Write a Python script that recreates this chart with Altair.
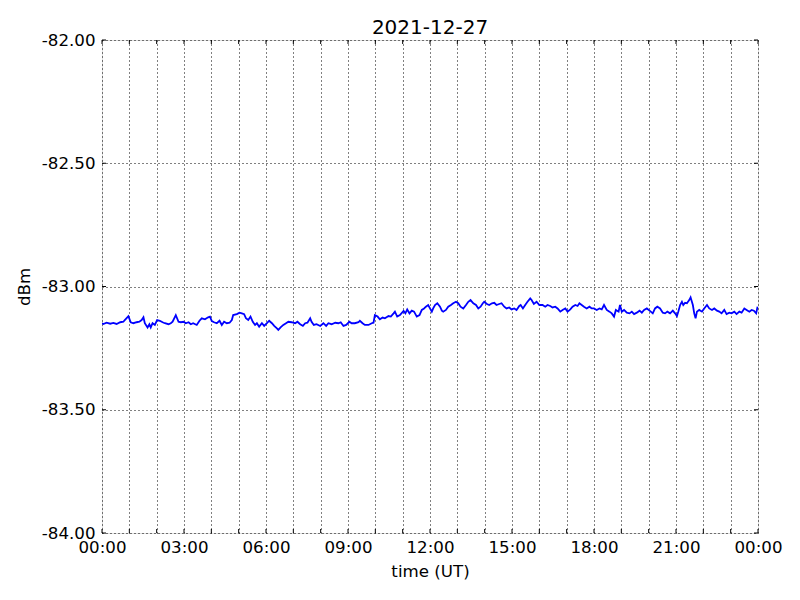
import altair as alt
import pandas as pd

# ---- data (minutes after 00:00 UT, dBm) ----
min_a = [0, 3, 10, 18, 25, 32, 40, 47, 50, 58, 63, 69, 76, 82, 87, 91, 94, 100, 104, 107, 111, 116,
         121, 127, 133, 138, 146, 151, 155, 162, 168, 173, 179, 184, 190, 195, 200, 208, 214, 219,
         226, 233, 237]
dbm_a = [-83.149, -83.152, -83.147, -83.151, -83.148, -83.152, -83.145, -83.143, -83.136, -83.120,
         -83.145, -83.149, -83.145, -83.143, -83.136, -83.125, -83.149, -83.166, -83.153, -83.166,
         -83.149, -83.156, -83.136, -83.139, -83.145, -83.149, -83.153, -83.149, -83.143, -83.116,
         -83.143, -83.145, -83.143, -83.149, -83.145, -83.153, -83.149, -83.156, -83.139, -83.129,
         -83.133, -83.125, -83.122]

min_b = [241, 246, 252, 258, 263, 268, 274, 280, 285, 288, 296, 302, 307, 312, 316, 321, 326, 331,
         336, 340, 345, 351, 356, 362, 367, 373, 378, 384, 387, 392, 398, 404, 409, 416, 424, 429,
         435, 441, 446, 451, 457, 460, 465, 471, 479]
dbm_b = [-83.140, -83.145, -83.149, -83.139, -83.156, -83.143, -83.149, -83.147, -83.136, -83.116,
         -83.112, -83.106, -83.109, -83.112, -83.129, -83.136, -83.122, -83.143, -83.156, -83.149,
         -83.163, -83.149, -83.160, -83.149, -83.139, -83.149, -83.160, -83.170, -83.176, -83.166,
         -83.156, -83.149, -83.143, -83.145, -83.149, -83.143, -83.153, -83.160, -83.149, -83.147,
         -83.129, -83.143, -83.156, -83.153, -83.160]

min_c = [486, 492, 497, 504, 512, 519, 524, 530, 536, 543, 548, 555, 563, 566, 572, 577, 585, 592,
         596, 599, 605, 610, 616, 621, 629, 634, 640, 643, 648, 654, 662, 666, 670, 675, 680, 685,
         691, 697, 702, 707, 711, 716, 720]
dbm_c = [-83.149, -83.160, -83.149, -83.153, -83.147, -83.149, -83.145, -83.160, -83.156, -83.143,
         -83.149, -83.149, -83.145, -83.139, -83.149, -83.156, -83.156, -83.149, -83.147, -83.116,
         -83.122, -83.133, -83.126, -83.129, -83.120, -83.122, -83.109, -83.102, -83.122, -83.116,
         -83.099, -83.109, -83.093, -83.109, -83.098, -83.102, -83.122, -83.116, -83.095, -83.089,
         -83.082, -83.075, -83.089]

min_d = [724, 727, 731, 736, 742, 746, 749, 755, 760, 766, 771, 777, 782, 787, 793, 799, 804, 809,
         815, 821, 826, 831, 836, 839, 845, 850, 856, 861, 866, 872, 877, 883, 888, 894, 899, 905,
         910, 916, 919, 924, 929, 934, 940, 943, 948, 954, 960]
dbm_d = [-83.102, -83.089, -83.075, -83.068, -83.082, -83.098, -83.102, -83.095, -83.082, -83.075,
         -83.068, -83.062, -83.068, -83.082, -83.089, -83.075, -83.062, -83.055, -83.068, -83.075,
         -83.089, -83.082, -83.068, -83.062, -83.071, -83.075, -83.068, -83.066, -83.075, -83.071,
         -83.068, -83.082, -83.089, -83.085, -83.093, -83.089, -83.095, -83.079, -83.075, -83.089,
         -83.075, -83.062, -83.048, -83.055, -83.071, -83.062, -83.075]

min_e = [967, 973, 978, 984, 989, 995, 1000, 1006, 1011, 1017, 1022, 1028, 1033, 1039, 1044, 1048,
         1053, 1058, 1064, 1070, 1075, 1080, 1086, 1092, 1097, 1102, 1108, 1114, 1119, 1124, 1128,
         1134, 1137, 1141, 1146, 1152, 1158, 1163, 1168, 1174, 1180, 1185, 1190, 1196, 1202]
dbm_e = [-83.075, -83.082, -83.075, -83.079, -83.085, -83.082, -83.089, -83.102, -83.095, -83.089,
         -83.102, -83.093, -83.082, -83.075, -83.079, -83.068, -83.075, -83.082, -83.089, -83.082,
         -83.089, -83.089, -83.095, -83.089, -83.093, -83.075, -83.095, -83.102, -83.109, -83.122,
         -83.095, -83.102, -83.075, -83.102, -83.095, -83.106, -83.109, -83.102, -83.112, -83.106,
         -83.098, -83.106, -83.095, -83.089, -83.098]

min_f = [1209, 1214, 1219, 1225, 1231, 1236, 1241, 1247, 1253, 1258, 1262, 1265, 1269, 1273, 1276,
         1280, 1284, 1289, 1292, 1297, 1300, 1303, 1306, 1311, 1317, 1322, 1328, 1333, 1339, 1344,
         1350, 1355, 1360, 1366, 1371, 1377, 1382, 1388, 1393, 1399, 1404, 1410, 1415, 1421, 1426,
         1431, 1436, 1439]
dbm_f = [-83.109, -83.089, -83.082, -83.089, -83.106, -83.109, -83.102, -83.109, -83.098, -83.109,
         -83.120, -83.102, -83.075, -83.062, -83.075, -83.066, -83.068, -83.055, -83.044, -83.075,
         -83.109, -83.129, -83.102, -83.095, -83.102, -83.089, -83.075, -83.089, -83.095, -83.089,
         -83.098, -83.102, -83.109, -83.095, -83.112, -83.106, -83.109, -83.102, -83.112, -83.102,
         -83.106, -83.089, -83.095, -83.102, -83.095, -83.098, -83.109, -83.082]

hour_ticks = list(range(0, 1441, 60))          # grid every hour, label every 3 h
y_ticks = [-84.0, -83.5, -83.0, -82.5, -82.0]
title_text = "2021-12-27"

# ---- build table ----
mins, vals = [], []
for m, v in [(min_a, dbm_a), (min_b, dbm_b), (min_c, dbm_c),
             (min_d, dbm_d), (min_e, dbm_e), (min_f, dbm_f)]:
    assert len(m) == len(v)
    mins += m
    vals += v
df = pd.DataFrame({"minute": mins, "dbm": vals})

W, H = 656, 493
FONT = "DejaVu Sans"

x_enc = alt.X(
    "minute:Q",
    scale=alt.Scale(domain=[0, 1440], nice=False, zero=False),
    axis=alt.Axis(
        values=hour_ticks,
        labelExpr="datum.value % 180 == 0 ? ((floor(datum.value/60) % 24) < 10 ? '0' : '') + (floor(datum.value/60) % 24) + ':00' : ''",
        title="time (UT)",
        grid=True, gridDash=[1, 3], gridColor="black", gridWidth=1, gridOpacity=1,
        ticks=False, domain=False,
        labelPadding=6, labelFontSize=16.67, labelColor="black", labelFont=FONT,
        labelFlush=False, labelOverlap=False,
        titleFontSize=16.67, titleColor="black", titleFont=FONT, titleFontWeight="normal",
        titlePadding=8,
    ),
)
y_enc = alt.Y(
    "dbm:Q",
    scale=alt.Scale(domain=[-84, -82], nice=False, zero=False),
    axis=alt.Axis(
        values=y_ticks,
        labelExpr="(datum.value < 0 ? '-' : '') + format(abs(datum.value), '.2f')",
        title="dBm",
        grid=True, gridDash=[1, 3], gridColor="black", gridWidth=1, gridOpacity=1,
        ticks=False, domain=False,
        labelPadding=7, labelFontSize=16.67, labelColor="black", labelFont=FONT,
        labelFlush=False, labelOverlap=False,
        titleFontSize=16.67, titleColor="black", titleFont=FONT, titleFontWeight="normal",
        titlePadding=8,
    ),
)

line = alt.Chart(df).mark_line(color="#0000ff", strokeWidth=1.8, clip=True).encode(x=x_enc, y=y_enc)

xt = pd.DataFrame({"minute": hour_ticks})
yt = pd.DataFrame({"dbm": y_ticks})
tick_len = 4
bottom_ticks = alt.Chart(xt).mark_rule(color="black", strokeWidth=1).encode(
    x=x_enc, y=alt.value(H), y2=alt.value(H - tick_len))
top_ticks = alt.Chart(xt).mark_rule(color="black", strokeWidth=1).encode(
    x=x_enc, y=alt.value(0), y2=alt.value(tick_len))
left_ticks = alt.Chart(yt).mark_rule(color="black", strokeWidth=1).encode(
    y=y_enc, x=alt.value(0), x2=alt.value(tick_len))
right_ticks = alt.Chart(yt).mark_rule(color="black", strokeWidth=1).encode(
    y=y_enc, x=alt.value(W), x2=alt.value(W - tick_len))

chart = alt.layer(line, bottom_ticks, top_ticks, left_ticks, right_ticks).properties(
    width=W, height=H,
    title=alt.TitleParams(title_text, fontSize=20, font=FONT, fontWeight="normal",
                          color="black", offset=6, dy=12, anchor="middle"),
    autosize=alt.AutoSizeParams(type="none"),
    padding={"left": 94, "top": 32, "right": 34, "bottom": 59},
).configure_view(stroke="black", strokeWidth=1).configure(background="white")

chart.save("out.html", embed_options={"renderer": "svg", "actions": False})
